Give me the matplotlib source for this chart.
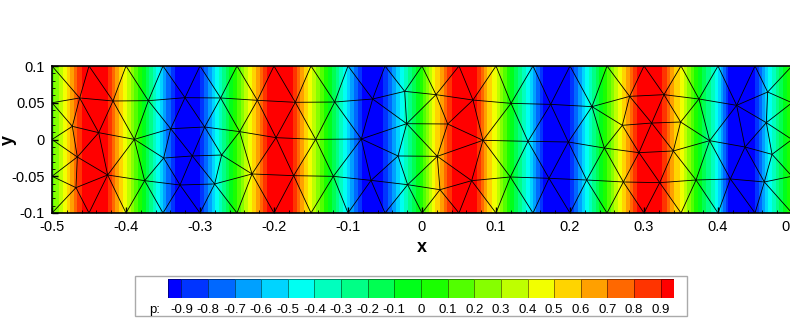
import matplotlib
matplotlib.use('Agg')
import matplotlib.pyplot as plt
from matplotlib.collections import LineCollection
from matplotlib.colors import LinearSegmentedColormap
from matplotlib.patches import Rectangle
from matplotlib.ticker import MultipleLocator
import numpy as np

plt.rcParams['font.family'] = ['Liberation Sans', 'DejaVu Sans']

# pressure profile, the bands are nearly vertical
profile_x = [-.5, -.4824, -.473, -.4662, -.4595, -.4419, -.4243, -.4189, -.4122, -.4014,
             -.3784, -.3568, -.3459, -.3338, -.3176, -.3, -.2892, -.277, -.2554, -.2324,
             -.2216, -.2149, -.2095, -.1919, -.1743, -.1689, -.1622, -.1514, -.127, -.1041,
             -.0919, -.0811, -.0676, -.0527, -.0405, -.027, -.0027, .0149, .027, .0338,
             .0405, .0581, .0743, .0797, .0851, .0986, .1189, .1432, .1541, .1635,
             .1811, .2, .2108, .223, .2446, .2676, .2784, .2851, .2905, .3081,
             .3243, .3311, .3378, .3514, .373, .3986, .4068, .4135, .4324, .45,
             .4595, .4703, .4932, .5]
profile_p = [.15, .45, .65, .8, .9, 1, .9, .8, .65, .45,
             0, -.45, -.7, -.9, -1, -.9, -.7, -.45, 0, .45,
             .65, .8, .9, 1, .9, .8, .65, .45, 0, -.45,
             -.7, -.9, -1, -.9, -.7, -.45, 0, .45, .65, .8,
             .9, 1, .9, .8, .65, .45, 0, -.45, -.7, -.9,
             -1, -.9, -.7, -.45, 0, .45, .65, .8, .9, 1,
             .9, .8, .65, .45, 0, -.45, -.7, -.9, -1, -.9,
             -.7, -.45, 0, .15]

# mesh nodes
node_x = [-.4626, -.4176, -.3698, -.3203, -.2721, -.2225, -.1712, -.118, -.0667, -.0234,
          .0189, .0689, .1203, .1739, .2297, .2806, .327, .3743, .4252, .4671,
          -.4725, -.4369, -.3887, -.3396, -.2937, -.2464, -.1973, -.1437, -.082, -.0207,
          .0347, .0824, .1432, .1977, .2464, .2707, .3104, .3495, .2932, .3396,
          .3887, .4365, .4653, .473, .0207,
          -.4658, -.3491, -.3104, -.2707, -.0324,
          -.4248, -.3748, -.327, -.2802, -.2297, -.1734, -.1198, -.0689, -.0194, -.4676,
          .0243, .0671, .1194, .1716, .2225, .2721, .3212, .3703, .4167, .4626]
node_y = [.0565, .0524, .0528, .0569, .0565, .0533, .0506, .051, .0551, .0655,
          .061, .0537, .0492, .0478, .0447, .0587, .061, .0551, .0465, .0646,
          .0179, .0093, .0002, .0147, .017, .0107, .0025, .0002, .0007, .0215,
          .0211, -.0011, -.0025, -.0034, -.0116, .0193, .0224, .0238, -.0179, -.0156,
          -.0016, -.0102, .0229, -.0202, -.0229,
          -.0238, -.0252, -.0224, -.0211, -.0224,
          -.0483, -.056, -.0619, -.0605, -.0469, -.0492, -.0501, -.0556, -.0615, -.0655,
          -.0683, -.056, -.051, -.0528, -.0551, -.0578, -.0587, -.0551, -.0537, -.0578]
edge_x = [-.5, -.45, -.4, -.35, -.3, -.25, -.2, -.15, -.1, -.05, 0,
          .05, .1, .15, .2, .25, .3, .35, .4, .45, .5]
side_y = [-.05, 0, .05]

# (column of edge_x, node)
top_links = [(0, 0), (1, 0), (1, 1), (2, 1), (2, 2), (3, 2), (3, 3), (4, 3), (4, 4), (5, 4),
             (5, 5), (6, 5), (6, 6), (7, 6), (7, 7), (8, 7), (8, 8), (9, 8), (9, 9), (10, 9),
             (10, 10), (11, 10), (11, 11), (12, 11), (12, 12), (13, 12), (13, 13), (14, 13),
             (14, 14), (15, 14), (15, 15), (16, 15), (16, 16), (17, 16), (17, 17), (18, 17),
             (18, 18), (19, 18), (19, 19), (20, 19)]
bottom_links = [(0, 59), (1, 59), (1, 50), (2, 50), (2, 51), (3, 51), (3, 52), (4, 52), (4, 53),
                (5, 53), (5, 54), (6, 54), (6, 55), (7, 55), (7, 56), (8, 56), (8, 57), (9, 57),
                (9, 58), (10, 58), (10, 60), (11, 60), (11, 61), (12, 61), (12, 62), (13, 62),
                (13, 63), (14, 63), (14, 64), (15, 64), (15, 65), (16, 65), (16, 66), (17, 66),
                (17, 67), (18, 67), (18, 68), (19, 68), (19, 69), (20, 69)]
# (index of side_y, node)
left_links = [(2, 0), (2, 20), (1, 20), (1, 45), (0, 45), (0, 59)]
right_links = [(2, 19), (2, 42), (1, 42), (1, 43), (0, 43), (0, 69)]
inner_links = [(0, 1), (1, 2), (2, 3), (3, 4), (4, 5), (5, 6), (6, 7), (7, 8), (8, 9), (9, 10),
               (10, 11), (11, 12), (12, 13), (13, 14), (14, 15), (15, 16), (16, 17), (17, 18),
               (18, 19),
               (0, 20), (0, 21), (1, 21), (1, 22), (2, 22), (2, 23), (3, 23), (3, 24), (4, 24),
               (4, 25), (5, 25), (5, 26), (6, 26), (6, 27), (7, 27), (7, 28), (8, 28), (8, 29),
               (9, 29), (10, 29), (10, 30), (11, 30), (11, 31), (12, 31), (12, 32), (13, 32),
               (13, 33), (14, 33), (14, 34), (14, 35), (15, 35), (15, 36), (16, 36), (16, 37),
               (17, 37), (17, 40), (18, 40), (18, 41), (18, 42), (19, 42),
               (20, 21), (21, 22), (22, 23), (23, 24), (24, 25), (25, 26), (26, 27), (27, 28),
               (28, 29), (29, 30), (30, 31), (31, 32), (32, 33), (33, 34), (34, 38), (38, 39),
               (39, 40), (40, 41), (41, 43), (35, 36), (36, 37), (34, 35), (35, 38), (36, 38),
               (36, 39), (37, 39), (37, 40), (41, 42), (42, 43),
               (20, 45), (21, 45), (21, 50), (22, 50), (22, 51), (22, 46), (23, 46), (23, 47),
               (24, 47), (24, 48), (25, 48), (25, 54), (26, 54), (26, 55), (27, 55), (27, 56),
               (28, 56), (28, 57), (28, 49), (29, 49), (29, 44), (30, 44), (31, 44),
               (45, 50), (45, 59), (46, 47), (47, 48), (46, 51), (46, 52), (47, 52), (47, 53),
               (48, 53), (48, 54), (49, 44), (49, 57), (49, 58), (44, 58), (44, 60), (44, 61),
               (31, 61), (31, 62), (32, 62), (32, 63), (33, 63), (33, 64), (34, 64), (34, 65),
               (38, 65), (38, 66), (39, 66), (39, 67), (40, 67), (40, 68), (41, 68), (41, 69),
               (43, 69),
               (59, 50), (50, 51), (51, 52), (52, 53), (53, 54), (54, 55), (55, 56), (56, 57),
               (57, 58), (58, 60), (60, 61), (61, 62), (62, 63), (63, 64), (64, 65), (65, 66),
               (66, 67), (67, 68), (68, 69)]

levels = [-.9, -.8, -.7, -.6, -.5, -.4, -.3, -.2, -.1, 0, .1, .2, .3, .4, .5, .6, .7, .8, .9]
level_labels = ['-0.9', '-0.8', '-0.7', '-0.6', '-0.5', '-0.4', '-0.3', '-0.2', '-0.1', '0',
                '0.1', '0.2', '0.3', '0.4', '0.5', '0.6', '0.7', '0.8', '0.9']


def mesh_segments():
    segs = []
    for a, b in inner_links:
        segs.append([(node_x[a], node_y[a]), (node_x[b], node_y[b])])
    for col, n in top_links:
        segs.append([(edge_x[col], .1), (node_x[n], node_y[n])])
    for col, n in bottom_links:
        segs.append([(edge_x[col], -.1), (node_x[n], node_y[n])])
    for k, n in left_links:
        segs.append([(-.5, side_y[k]), (node_x[n], node_y[n])])
    for k, n in right_links:
        segs.append([(.5, side_y[k]), (node_x[n], node_y[n])])
    return segs


W, H = 790, 331
fig = plt.figure(figsize=(W / 100, H / 100), dpi=100)
ax = fig.add_axes([52 / W, (H - 213) / H, 740 / W, 147 / H])

rainbow = LinearSegmentedColormap.from_list(
    'small_rainbow', ['#0000ff', '#00ffff', '#00ff00', '#ffff00', '#ff0000'])
colors = [rainbow(i / 19) for i in range(20)]

zz = np.array([profile_p, profile_p])
ax.contourf(profile_x, [-.1, .1], zz, levels=[-2] + levels + [2], colors=colors)
ax.add_collection(LineCollection(mesh_segments(), colors='black', linewidths=0.6))

ax.set_xlim(-.5, .5)
ax.set_ylim(-.1, .1)
ax.set_xticks([-.5, -.4, -.3, -.2, -.1, 0, .1, .2, .3, .4, .5])
ax.set_xticklabels(['-0.5', '-0.4', '-0.3', '-0.2', '-0.1', '0', '0.1', '0.2', '0.3', '0.4', '0.5'])
ax.set_yticks([-.1, -.05, 0, .05, .1])
ax.set_yticklabels(['-0.1', '-0.05', '0', '0.05', '0.1'])
ax.xaxis.set_minor_locator(MultipleLocator(.02))
ax.yaxis.set_minor_locator(MultipleLocator(.01))
ax.tick_params(which='major', direction='in', length=4, width=1, labelsize=10.5, pad=5)
ax.tick_params(which='minor', direction='in', length=2, width=0.6)
for s in ax.spines.values():
    s.set_linewidth(1.2)

fig.text(422 / W, (H - 247) / H, 'x', fontsize=13, fontweight='bold', ha='center', va='center')
fig.text(8 / W, (H - 140) / H, 'y', fontsize=13, fontweight='bold', rotation=90, ha='center', va='center')

# legend box with the colour bar
fig.add_artist(Rectangle((135 / W, (H - 316) / H), 552 / W, 40 / H, transform=fig.transFigure,
                         facecolor='white', edgecolor='#aaaaaa', lw=1, zorder=-1))
cax = fig.add_axes([168 / W, (H - 298) / H, 506 / W, 19 / H])
cax.set_zorder(5)
bounds = [-.95] + levels + [.95]
cax.pcolormesh(bounds, [0, 1], np.arange(20).reshape(1, 20), cmap=rainbow,
               edgecolors=(0, 0, 0, .45), linewidth=0.6)
cax.set_xlim(-.95, .95)
cax.set_yticks([])
cax.set_xticks(levels)
cax.set_xticklabels(level_labels)
cax.tick_params(length=0, labelsize=9.5, pad=4)
for s in cax.spines.values():
    s.set_visible(False)
fig.text(160 / W, (H - 310) / H, 'p:', fontsize=9.5, ha='right', va='center')

fig.savefig('out.png', dpi=100)
